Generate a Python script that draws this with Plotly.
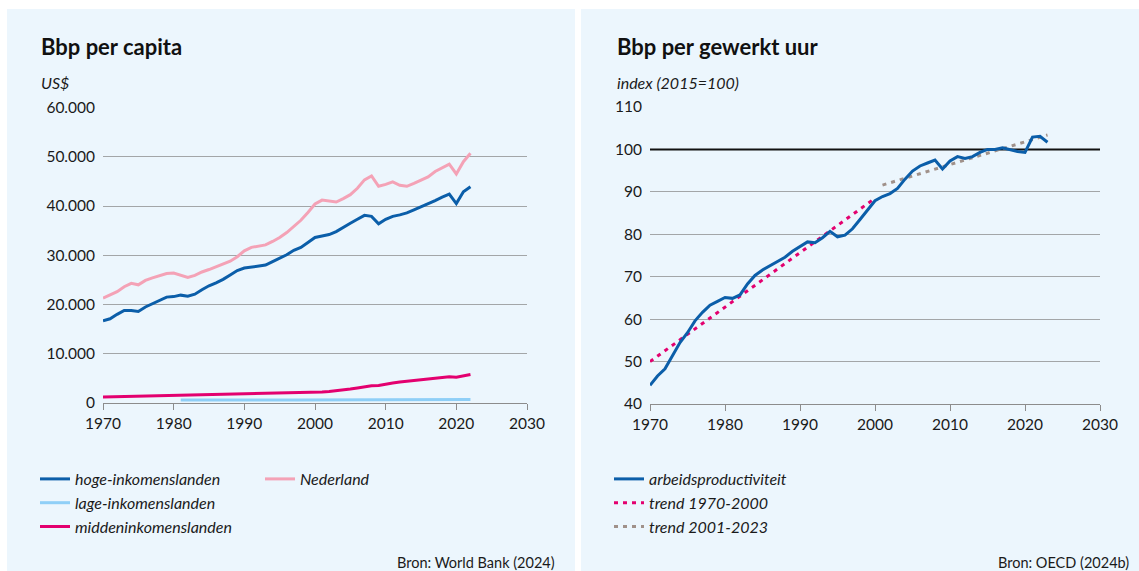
import plotly.graph_objects as go

# ---------------- data: left panel (Bbp per capita, US$) ----------------
years_left = list(range(1970, 2023))
hoge = [16700, 17100, 18000, 18800, 18800, 18600, 19500, 20200, 20900, 21500,
        21600, 21900, 21700, 22100, 23000, 23800, 24400, 25100, 26000, 26900,
        27400, 27600, 27900, 28000, 28700, 29400, 30100, 31000, 31600, 32600,
        33600, 33900, 34200, 34800, 35700, 36500, 37300, 38100, 37900, 36400,
        37300, 37900, 38200, 38600, 39200, 39800, 40400, 41100, 41800, 42400,
        40500, 42900, 43900]
nederland = [21300, 22000, 22600, 23600, 24300, 24000, 24900, 25400, 25900, 26300,
             26400, 26000, 25500, 25900, 26600, 27100, 27700, 28200, 28800, 29700,
             30900, 31600, 31900, 32100, 32800, 33600, 34600, 35800, 37100, 38700,
             40400, 41200, 41000, 40800, 41500, 42300, 43600, 45300, 46100, 44000,
             44400, 44900, 44200, 44000, 44600, 45300, 45900, 47000, 47800, 48500,
             46500, 49000, 50700]
midden = [1200, 1230, 1260, 1300, 1340, 1380, 1420, 1460, 1500, 1540,
          1580, 1600, 1600, 1610, 1640, 1670, 1700, 1740, 1780, 1800,
          1830, 1820, 1830, 1850, 1880, 1920, 1980, 2030, 2050, 2090,
          2180, 2240, 2330, 2470, 2650, 2830, 3050, 3300, 3500, 3550,
          3850, 4050, 4250, 4420, 4580, 4700, 4820, 5000, 5200, 5350,
          5250, 5600, 5800]
years_lage = list(range(1981, 2023))
lage = [620, 610, 600, 600, 590, 590, 600, 600, 610, 620,
        610, 600, 600, 600, 610, 620, 630, 630, 640, 650,
        650, 660, 670, 680, 690, 700, 720, 730, 740, 750,
        760, 760, 770, 770, 760, 740, 740, 730, 730, 720,
        710, 700]

# ---------------- data: right panel (Bbp per gewerkt uur, index 2015=100) ----------------
years_right = list(range(1970, 2024))
arbeid = [44.4, 46.6, 48.3, 51.3, 54.5, 56.8, 59.6, 61.6, 63.3, 64.2,
          65.1, 64.9, 65.7, 68.3, 70.3, 71.6, 72.6, 73.4, 74.6, 76.0,
          77.2, 78.2, 78.0, 79.2, 80.7, 79.4, 79.8, 81.3, 83.5, 85.7,
          87.9, 88.9, 89.6, 90.8, 93.0, 94.9, 96.1, 96.8, 97.5, 95.4,
          97.3, 98.3, 97.9, 98.3, 99.3, 100.0, 100.0, 100.4, 99.9, 99.5,
          99.3, 102.9, 103.1, 101.7]
trend1_years = [1970, 2000]
trend1 = [50.0, 88.5]
trend2_years = [2001, 2023]
trend2 = [91.6, 103.4]
reference_level = 100

# tick definitions
x_ticks = [1970, 1980, 1990, 2000, 2010, 2020, 2030]
left_y_ticks = [0, 10000, 20000, 30000, 40000, 50000, 60000]
right_y_ticks = [40, 50, 60, 70, 80, 90, 100, 110]

# ---------------- styling ----------------
W, H = 1139, 571
FONT = "Lato"
BG = "#ecf6fd"
C_HOGE = "#0b5ea9"
C_LAGE = "#8fcff7"
C_MIDDEN = "#e3006f"
C_NL = "#f4a2b6"
C_T2 = "#a0918a"
GRID = "#a3a6a8"
TXT = "#1a1a1a"


def px_x(p):
    return p / W


def px_y(p):
    return 1 - p / H


fig = go.Figure()

fig.add_trace(go.Scatter(x=years_left, y=hoge, name="hoge-inkomenslanden", mode="lines",
                         line=dict(color=C_HOGE, width=3), xaxis="x", yaxis="y", legend="legend"))
fig.add_trace(go.Scatter(x=years_lage, y=lage, name="lage-inkomenslanden", mode="lines",
                         line=dict(color=C_LAGE, width=3), xaxis="x", yaxis="y", legend="legend"))
fig.add_trace(go.Scatter(x=years_left, y=midden, name="middeninkomenslanden",
                         mode="lines", line=dict(color=C_MIDDEN, width=3), xaxis="x", yaxis="y",
                         legend="legend"))
fig.add_trace(go.Scatter(x=years_left, y=nederland, name="Nederland", mode="lines",
                         line=dict(color=C_NL, width=3), xaxis="x", yaxis="y", legend="legend2"))

# reference line at index 100 (drawn first so it sits under the data)
fig.add_trace(go.Scatter(x=[x_ticks[0], x_ticks[-1]], y=[reference_level, reference_level],
                         mode="lines", line=dict(color="#111111", width=2), showlegend=False,
                         hoverinfo="skip", xaxis="x2", yaxis="y2", legend="legend3"))
fig.add_trace(go.Scatter(x=trend1_years, y=trend1, name="trend 1970-2000", mode="lines",
                         line=dict(color=C_MIDDEN, width=3, dash="4px,5px"), xaxis="x2", yaxis="y2",
                         legend="legend3", legendrank=2))
fig.add_trace(go.Scatter(x=trend2_years, y=trend2, name="trend 2001-2023", mode="lines",
                         line=dict(color=C_T2, width=3, dash="4px,5px"), xaxis="x2", yaxis="y2",
                         legend="legend3", legendrank=3))
fig.add_trace(go.Scatter(x=years_right, y=arbeid, name="arbeidsproductiviteit", mode="lines",
                         line=dict(color=C_HOGE, width=3), xaxis="x2", yaxis="y2",
                         legend="legend3", legendrank=1))

tickfont = dict(family=FONT, size=15.5, color=TXT)

xaxis_common = dict(range=[1970, 2030], tickvals=x_ticks, showgrid=False, zeroline=False,
                    showline=True, linecolor="#8c8c8c", linewidth=1, ticks="outside",
                    ticklen=6, tickcolor="#8c8c8c", tickfont=tickfont, fixedrange=True,
                    automargin=False)
yaxis_common = dict(showgrid=True, gridcolor=GRID, gridwidth=1, zeroline=False,
                    showline=False, ticks="", tickfont=tickfont, fixedrange=True,
                    ticklabelstandoff=7, automargin=False)

legend_font = dict(family=FONT, size=16, style="italic", color=TXT)

fig.update_layout(
    width=W, height=H, autosize=False,
    margin=dict(l=0, r=0, t=0, b=0, pad=0, autoexpand=False),
    paper_bgcolor="white", plot_bgcolor="rgba(0,0,0,0)",
    separators=",.",
    showlegend=True,
    xaxis=dict(domain=[px_x(103), px_x(527)], anchor="y", **xaxis_common),
    yaxis=dict(domain=[px_y(403), px_y(107.5)], anchor="x", range=[0, 60000],
               tickvals=left_y_ticks, tickformat=",d", **yaxis_common),
    xaxis2=dict(domain=[px_x(650), px_x(1100)], anchor="y2", **xaxis_common),
    yaxis2=dict(domain=[px_y(404), px_y(107)], anchor="x2", range=[40, 110],
                tickvals=right_y_ticks, **yaxis_common),
    legend=dict(x=px_x(35), y=px_y(462), xanchor="left", yanchor="top",
                bgcolor="rgba(0,0,0,0)", font=legend_font),
    legend2=dict(x=px_x(260), y=px_y(462), xanchor="left", yanchor="top",
                 bgcolor="rgba(0,0,0,0)", font=legend_font),
    legend3=dict(x=px_x(609), y=px_y(462), xanchor="left", yanchor="top",
                 bgcolor="rgba(0,0,0,0)", traceorder="normal", font=legend_font),
    shapes=[
        dict(type="rect", xref="paper", yref="paper", x0=px_x(7), x1=px_x(575),
             y0=0, y1=px_y(9), fillcolor=BG, line=dict(width=0), layer="below"),
        dict(type="rect", xref="paper", yref="paper", x0=px_x(581), x1=1,
             y0=0, y1=px_y(9), fillcolor=BG, line=dict(width=0), layer="below"),
    ],
    annotations=[
        dict(text="<b>Bbp per capita</b>", xref="paper", yref="paper", x=px_x(39), y=px_y(46),
             xanchor="left", yanchor="middle", showarrow=False,
             font=dict(family=FONT, size=22, color="#111111")),
        dict(text="US$", xref="paper", yref="paper", x=px_x(39), y=px_y(83),
             xanchor="left", yanchor="middle", showarrow=False,
             font=dict(family=FONT, size=16, style="italic", color=TXT)),
        dict(text="<b>Bbp per gewerkt uur</b>", xref="paper", yref="paper", x=px_x(615), y=px_y(46),
             xanchor="left", yanchor="middle", showarrow=False,
             font=dict(family=FONT, size=22, color="#111111")),
        dict(text="index (2015=100)", xref="paper", yref="paper", x=px_x(615), y=px_y(83),
             xanchor="left", yanchor="middle", showarrow=False,
             font=dict(family=FONT, size=16, style="italic", color=TXT)),
        dict(text="Bron: World Bank (2024)", xref="paper", yref="paper", x=px_x(557), y=px_y(562),
             xanchor="right", yanchor="middle", showarrow=False,
             font=dict(family=FONT, size=14.5, color=TXT)),
        dict(text="Bron: OECD (2024b)", xref="paper", yref="paper", x=px_x(1131), y=px_y(562),
             xanchor="right", yanchor="middle", showarrow=False,
             font=dict(family=FONT, size=14.5, color=TXT)),
    ],
)

fig.write_html("out.html",
               config={"displayModeBar": False},
               post_script="document.body.style.margin='0';document.body.style.padding='0';"
                           "document.documentElement.style.overflow='hidden';")
